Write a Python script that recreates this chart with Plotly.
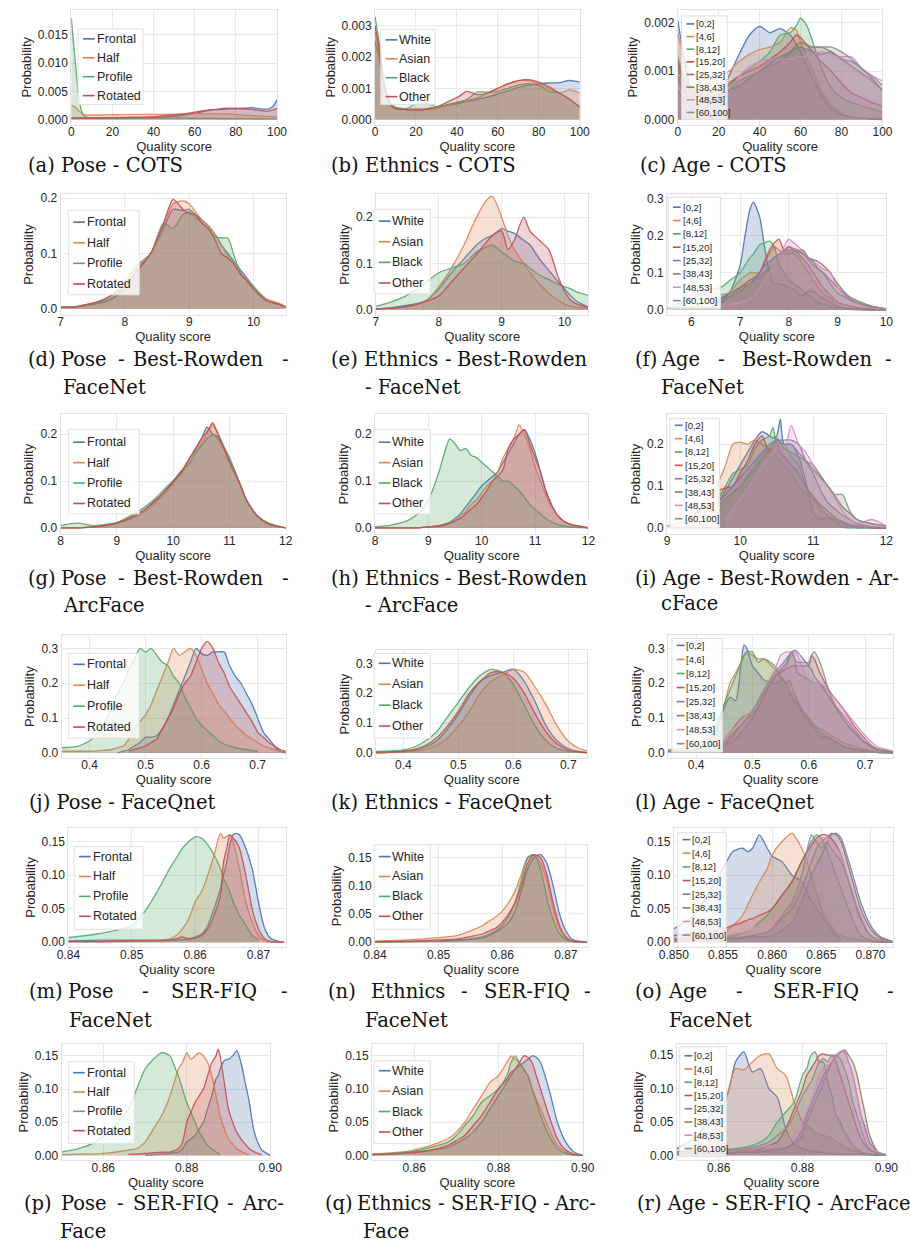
import plotly.graph_objects as go

W, H = 910, 1246
SANS = "Liberation Sans, Arial, sans-serif"
SERIF = "DejaVu Serif, serif"
TXT = "#262626"
N = None

COLORS = ["#4C72B0", "#DD8452", "#55A868", "#C44E52", "#8172B3", "#937860", "#DA8BC3", "#8C8C8C"]
POSE = ["Frontal", "Half", "Profile", "Rotated"]
ETHNICS = ["White", "Asian", "Black", "Other"]
AGE = ["[0,2]", "[4,6]", "[8,12]", "[15,20]", "[25,32]", "[38,43]", "[48,53]", "[60,100]"]

# ---------------- (a) Pose - COTS  (values x 1e-3)
a_x = [0, 2, 4, 6, 8, 10, 15, 20, 30, 40, 50, 55, 60, 65, 70, 75, 80, 85, 88, 92, 96, 98, 100]
a_frontal = [0.2, 0.2, 0.2, 0.2, 0.2, 0.2, 0.2, 0.2, 0.25, 0.3, 0.55, 0.8, 1.1, 1.5, 1.75, 1.85, 1.9, 2.0, 2.1, 1.9, 1.9, 2.3, 3.5]
a_half = [2.5, 2.2, 1.4, 0.9, 0.8, 0.8, 0.8, 0.85, 0.9, 0.9, 0.95, 1.0, 1.0, 1.0, 1.0, 1.0, 0.9, 0.75, 0.7, 0.6, 0.55, 0.5, 0.5]
a_profile = [18.0, 10.0, 3.0, 0.7, 0.4, 0.35, 0.35, 0.35, 0.35, 0.3, 0.25, 0.25, 0.2, 0.2, 0.2, 0.15, 0.15, 0.15, 0.15, 0.1, 0.1, 0.1, 0.1]
a_rotated = [0.3, 0.3, 0.3, 0.3, 0.3, 0.3, 0.3, 0.35, 0.4, 0.5, 0.8, 1.0, 1.3, 1.6, 1.8, 2.0, 2.0, 1.9, 1.8, 1.6, 1.5, 1.7, 2.0]

# ---------------- (b) Ethnics - COTS  (values x 1e-3)
b_x = [0, 2, 4, 6, 8, 10, 15, 20, 23, 26, 30, 35, 40, 45, 50, 55, 60, 65, 70, 75, 80, 85, 90, 95, 100]
b_white = [2.5, 2.0, 1.2, 0.7, 0.45, 0.35, 0.33, 0.33, 0.33, 0.35, 0.4, 0.45, 0.5, 0.58, 0.65, 0.72, 0.82, 0.92, 1.02, 1.1, 1.15, 1.17, 1.18, 1.25, 1.2]
b_asian = [2.8, 2.2, 1.3, 0.7, 0.45, 0.35, 0.33, 0.33, 0.33, 0.33, 0.35, 0.45, 0.55, 0.6, 0.7, 0.85, 1.0, 1.15, 1.25, 1.25, 1.15, 1.0, 0.85, 0.95, 0.85]
b_black = [3.3, 2.5, 1.4, 0.8, 0.5, 0.4, 0.35, 0.5, 0.55, 0.5, 0.42, 0.48, 0.55, 0.65, 0.88, 0.88, 0.9, 1.0, 1.1, 1.15, 1.1, 0.9, 0.85, 0.65, 0.4]
b_other = [3.0, 2.3, 1.3, 0.7, 0.45, 0.35, 0.32, 0.3, 0.3, 0.35, 0.4, 0.55, 0.7, 0.9, 0.8, 0.85, 1.0, 1.15, 1.25, 1.28, 1.2, 1.05, 0.85, 0.65, 0.4]

# ---------------- (c) Age - COTS  (values x 1e-3)
c_x = [0, 3, 6, 10, 15, 20, 25, 30, 35, 40, 45, 50, 55, 58, 60, 63, 66, 70, 75, 80, 85, 90, 95, 100]
c_a0 = [2.06, 1.3, 0.7, 0.5, 0.45, 0.5, 0.9, 1.35, 1.75, 1.93, 1.8, 1.88, 1.75, 1.55, 1.4, 1.1, 0.85, 0.5, 0.22, 0.1, 0.05, 0.03, 0.01, 0.0]
c_a1 = [1.8, 1.3, 1.0, 0.85, 0.85, 0.9, 1.0, 1.2, 1.35, 1.45, 1.5, 1.6, 1.9, 1.85, 1.6, 1.3, 1.0, 0.6, 0.3, 0.12, 0.05, 0.03, 0.02, 0.01]
c_a2 = [1.3, 0.9, 0.7, 0.6, 0.6, 0.62, 0.7, 0.9, 1.05, 1.2, 1.4, 1.75, 1.8, 1.95, 2.1, 1.95, 1.6, 1.1, 0.65, 0.45, 0.35, 0.28, 0.22, 0.15]
c_a3 = [1.2, 0.8, 0.6, 0.5, 0.55, 0.6, 0.75, 0.9, 1.0, 1.1, 1.25, 1.4, 1.6, 1.75, 1.7, 1.55, 1.4, 1.2, 1.0, 0.75, 0.55, 0.45, 0.35, 0.28]
c_a4 = [0.9, 0.6, 0.45, 0.4, 0.42, 0.5, 0.6, 0.7, 0.85, 1.0, 1.15, 1.3, 1.4, 1.48, 1.5, 1.45, 1.4, 1.35, 1.4, 1.25, 1.2, 1.05, 0.85, 0.6]
c_a5 = [1.1, 0.7, 0.5, 0.42, 0.45, 0.5, 0.6, 0.7, 0.85, 1.0, 1.1, 1.2, 1.4, 1.55, 1.6, 1.55, 1.5, 1.5, 1.4, 1.25, 1.1, 0.95, 0.8, 0.6]
c_a6 = [0.7, 0.45, 0.3, 0.28, 0.28, 0.3, 0.55, 0.9, 1.1, 1.2, 1.25, 1.25, 1.25, 1.3, 1.3, 1.32, 1.35, 1.4, 1.35, 1.3, 1.3, 1.05, 0.9, 0.8]
c_a7 = [0.6, 0.45, 0.4, 0.4, 0.4, 0.42, 0.6, 0.8, 0.9, 1.0, 1.2, 1.3, 1.35, 1.4, 1.45, 1.45, 1.5, 1.5, 1.5, 1.4, 1.25, 1.05, 0.9, 0.7]

# ---------------- (d) Pose - Best-Rowden - FaceNet
d_x = [7.0, 7.2, 7.4, 7.6, 7.8, 8.0, 8.2, 8.4, 8.6, 8.75, 8.9, 9.0, 9.1, 9.2, 9.3, 9.4, 9.5, 9.6, 9.7, 9.8, 9.9, 10.0, 10.2, 10.4, 10.5]
d_frontal = [0.003, 0.003, 0.006, 0.01, 0.018, 0.035, 0.07, 0.1, 0.145, 0.18, 0.178, 0.18, 0.17, 0.16, 0.15, 0.135, 0.115, 0.1, 0.085, 0.07, 0.055, 0.04, 0.015, 0.008, 0.003]
d_half = [0.003, 0.003, 0.006, 0.012, 0.02, 0.04, 0.075, 0.1, 0.15, 0.19, 0.195, 0.19, 0.175, 0.16, 0.15, 0.135, 0.115, 0.095, 0.08, 0.065, 0.052, 0.04, 0.018, 0.01, 0.004]
d_profile = [0.003, 0.003, 0.006, 0.012, 0.025, 0.05, 0.08, 0.1, 0.155, 0.145, 0.17, 0.175, 0.165, 0.155, 0.145, 0.13, 0.128, 0.128, 0.095, 0.065, 0.05, 0.04, 0.015, 0.008, 0.003]
d_rotated = [0.003, 0.003, 0.008, 0.014, 0.025, 0.04, 0.07, 0.1, 0.155, 0.198, 0.18, 0.172, 0.17, 0.155, 0.145, 0.125, 0.1, 0.092, 0.08, 0.062, 0.05, 0.035, 0.015, 0.008, 0.003]

# ---------------- (e) Ethnics - Best-Rowden - FaceNet
e_x = [7.0, 7.2, 7.4, 7.6, 7.8, 8.0, 8.2, 8.4, 8.6, 8.75, 8.85, 9.0, 9.1, 9.2, 9.35, 9.45, 9.6, 9.75, 9.9, 10.0, 10.1, 10.2, 10.4]
e_white = [0.002, 0.004, 0.008, 0.012, 0.02, 0.045, 0.08, 0.11, 0.14, 0.155, 0.16, 0.175, 0.17, 0.165, 0.15, 0.14, 0.11, 0.085, 0.06, 0.045, 0.03, 0.018, 0.005]
e_asian = [0.002, 0.003, 0.005, 0.01, 0.02, 0.05, 0.09, 0.14, 0.2, 0.235, 0.245, 0.2, 0.16, 0.13, 0.1, 0.08, 0.055, 0.035, 0.02, 0.012, 0.008, 0.005, 0.002]
e_black = [0.008, 0.015, 0.025, 0.04, 0.06, 0.08, 0.09, 0.1, 0.125, 0.135, 0.14, 0.125, 0.115, 0.105, 0.1, 0.09, 0.075, 0.065, 0.055, 0.05, 0.045, 0.038, 0.03]
e_other = [0.002, 0.003, 0.005, 0.01, 0.018, 0.03, 0.06, 0.09, 0.12, 0.145, 0.16, 0.17, 0.13, 0.15, 0.2, 0.17, 0.15, 0.13, 0.07, 0.04, 0.02, 0.012, 0.004]

# ---------------- (f) Age - Best-Rowden - FaceNet
f_x = [5.5, 5.8, 6.0, 6.2, 6.4, 6.6, 6.8, 7.0, 7.1, 7.2, 7.27, 7.4, 7.5, 7.6, 7.7, 7.8, 7.9, 8.0, 8.1, 8.2, 8.3, 8.4, 8.5, 8.6, 8.7, 8.85, 9.0, 9.2, 9.4, 9.7, 10.0]
f_a0 = [N, N, N, N, N, 0.02, 0.05, 0.12, 0.2, 0.27, 0.29, 0.25, 0.17, 0.1, 0.07, 0.07, 0.065, 0.06, 0.055, 0.04, 0.04, 0.05, 0.05, 0.04, 0.03, 0.02, 0.008, 0.003, 0.001, 0.0, 0.0]
f_a1 = [N, N, N, N, N, 0.03, 0.05, 0.08, 0.09, 0.1, 0.1, 0.1, 0.13, 0.15, 0.17, 0.16, 0.155, 0.155, 0.15, 0.14, 0.12, 0.1, 0.08, 0.06, 0.045, 0.03, 0.012, 0.005, 0.002, 0.0, 0.0]
f_a2 = [0.005, 0.02, 0.03, 0.045, 0.055, 0.06, 0.08, 0.1, 0.12, 0.14, 0.15, 0.175, 0.18, 0.185, 0.17, 0.12, 0.1, 0.08, 0.07, 0.06, 0.05, 0.04, 0.03, 0.02, 0.015, 0.01, 0.005, 0.002, 0.0, 0.0, 0.0]
f_a3 = [N, N, N, N, N, 0.03, 0.045, 0.06, 0.07, 0.08, 0.085, 0.1, 0.13, 0.16, 0.18, 0.19, 0.16, 0.17, 0.16, 0.15, 0.135, 0.12, 0.1, 0.08, 0.06, 0.04, 0.02, 0.012, 0.006, 0.002, 0.0]
f_a4 = [N, N, N, N, N, 0.02, 0.035, 0.05, 0.06, 0.07, 0.08, 0.1, 0.12, 0.13, 0.14, 0.15, 0.16, 0.16, 0.16, 0.155, 0.15, 0.135, 0.12, 0.11, 0.1, 0.08, 0.06, 0.035, 0.02, 0.008, 0.002]
f_a5 = [0.005, 0.005, 0.005, 0.005, 0.005, 0.03, 0.045, 0.06, 0.065, 0.07, 0.075, 0.09, 0.1, 0.11, 0.12, 0.14, 0.16, 0.17, 0.165, 0.16, 0.15, 0.14, 0.135, 0.13, 0.12, 0.1, 0.07, 0.04, 0.025, 0.01, 0.002]
f_a6 = [N, N, N, N, N, 0.01, 0.015, 0.02, 0.025, 0.03, 0.035, 0.06, 0.08, 0.1, 0.12, 0.14, 0.17, 0.19, 0.18, 0.17, 0.155, 0.14, 0.13, 0.12, 0.11, 0.1, 0.06, 0.03, 0.015, 0.005, 0.001]
f_a7 = [N, N, N, N, N, 0.04, 0.045, 0.05, 0.06, 0.07, 0.075, 0.09, 0.1, 0.12, 0.14, 0.15, 0.15, 0.15, 0.155, 0.16, 0.16, 0.14, 0.13, 0.11, 0.1, 0.07, 0.045, 0.03, 0.02, 0.01, 0.003]

# ---------------- (g) Pose - Best-Rowden - ArcFace
g_x = [8.0, 8.3, 8.6, 9.0, 9.3, 9.5, 9.7, 9.9, 10.0, 10.1, 10.2, 10.3, 10.4, 10.5, 10.6, 10.65, 10.7, 10.8, 10.9, 11.0, 11.1, 11.2, 11.3, 11.5, 11.7, 12.0]
g_frontal = [0, 0, 0.002, 0.01, 0.025, 0.04, 0.06, 0.085, 0.1, 0.115, 0.13, 0.15, 0.17, 0.19, 0.215, 0.21, 0.2, 0.195, 0.17, 0.145, 0.12, 0.09, 0.06, 0.025, 0.008, 0.0]
g_half = [0, 0, 0.002, 0.01, 0.022, 0.035, 0.055, 0.08, 0.095, 0.11, 0.13, 0.15, 0.165, 0.18, 0.2, 0.215, 0.22, 0.2, 0.175, 0.15, 0.12, 0.09, 0.06, 0.025, 0.008, 0.0]
g_profile = [0.005, 0.01, 0.005, 0.012, 0.03, 0.045, 0.065, 0.09, 0.1, 0.11, 0.125, 0.14, 0.16, 0.175, 0.19, 0.195, 0.2, 0.19, 0.17, 0.15, 0.12, 0.09, 0.06, 0.025, 0.01, 0.0]
g_rotated = [0, 0, 0.002, 0.01, 0.025, 0.04, 0.06, 0.085, 0.1, 0.115, 0.13, 0.15, 0.17, 0.19, 0.205, 0.215, 0.225, 0.2, 0.17, 0.14, 0.115, 0.09, 0.06, 0.025, 0.008, 0.0]

# ---------------- (h) Ethnics - Best-Rowden - ArcFace
h_x = [8.0, 8.3, 8.6, 8.8, 9.0, 9.2, 9.3, 9.4, 9.5, 9.6, 9.7, 9.8, 9.9, 10.0, 10.1, 10.2, 10.3, 10.4, 10.5, 10.6, 10.7, 10.8, 10.9, 11.0, 11.1, 11.2, 11.4, 11.6, 12.0]
h_white = [0, 0, 0, 0, 0.002, 0.005, 0.008, 0.012, 0.02, 0.03, 0.045, 0.06, 0.075, 0.09, 0.1, 0.11, 0.12, 0.14, 0.16, 0.18, 0.2, 0.21, 0.19, 0.16, 0.12, 0.08, 0.03, 0.01, 0]
h_asian = [0, 0, 0, 0, 0.002, 0.004, 0.006, 0.01, 0.015, 0.025, 0.035, 0.05, 0.06, 0.075, 0.09, 0.1, 0.12, 0.15, 0.17, 0.19, 0.22, 0.2, 0.17, 0.13, 0.1, 0.07, 0.03, 0.01, 0]
h_black = [0.002, 0.006, 0.015, 0.03, 0.06, 0.12, 0.16, 0.19, 0.18, 0.165, 0.17, 0.155, 0.15, 0.14, 0.13, 0.12, 0.11, 0.1, 0.1, 0.09, 0.08, 0.065, 0.05, 0.04, 0.03, 0.02, 0.008, 0.003, 0]
h_other = [0, 0, 0, 0, 0.002, 0.004, 0.006, 0.01, 0.015, 0.02, 0.03, 0.04, 0.05, 0.065, 0.08, 0.1, 0.11, 0.125, 0.17, 0.19, 0.2, 0.21, 0.18, 0.15, 0.12, 0.08, 0.03, 0.01, 0]

# ---------------- (i) Age - Best-Rowden - ArcFace
i_x = [9.0, 9.3, 9.6, 9.7, 9.8, 9.9, 10.0, 10.1, 10.2, 10.3, 10.4, 10.45, 10.5, 10.55, 10.6, 10.7, 10.8, 10.9, 11.0, 11.1, 11.2, 11.3, 11.4, 11.5, 11.6, 11.8, 12.0]
i_a0 = [N, N, N, 0.06, 0.09, 0.12, 0.15, 0.18, 0.21, 0.23, 0.22, 0.215, 0.22, 0.26, 0.2, 0.2, 0.17, 0.11, 0.035, 0.02, 0.025, 0.015, 0.002, 0.0, 0.0, 0.0, 0.0]
i_a1 = [0.005, 0.02, 0.08, 0.11, 0.15, 0.2, 0.205, 0.2, 0.21, 0.2, 0.19, 0.18, 0.17, 0.16, 0.15, 0.13, 0.1, 0.08, 0.07, 0.04, 0.03, 0.02, 0.012, 0.005, 0.003, 0.0, 0.0]
i_a2 = [N, N, N, 0.07, 0.1, 0.13, 0.14, 0.15, 0.19, 0.21, 0.22, 0.24, 0.2, 0.2, 0.2, 0.17, 0.15, 0.1, 0.07, 0.05, 0.03, 0.02, 0.01, 0.005, 0.0, 0.0, 0.0]
i_a3 = [N, N, N, 0.09, 0.095, 0.1, 0.13, 0.16, 0.2, 0.22, 0.18, 0.19, 0.2, 0.18, 0.17, 0.15, 0.13, 0.1, 0.075, 0.055, 0.04, 0.025, 0.015, 0.008, 0.005, 0.0, 0.0]
i_a4 = [N, N, N, 0.06, 0.08, 0.1, 0.12, 0.14, 0.16, 0.18, 0.2, 0.205, 0.21, 0.21, 0.21, 0.21, 0.2, 0.16, 0.13, 0.09, 0.06, 0.045, 0.03, 0.02, 0.01, 0.003, 0.0]
i_a5 = [N, N, N, 0.05, 0.07, 0.085, 0.1, 0.12, 0.14, 0.165, 0.19, 0.2, 0.215, 0.2, 0.19, 0.18, 0.17, 0.16, 0.15, 0.125, 0.1, 0.075, 0.05, 0.035, 0.02, 0.01, 0.005]
i_a6 = [N, N, N, N, 0.02, 0.045, 0.07, 0.095, 0.12, 0.145, 0.17, 0.185, 0.2, 0.2, 0.18, 0.245, 0.2, 0.18, 0.15, 0.12, 0.1, 0.07, 0.04, 0.02, 0.01, 0.02, 0.005]
i_a7 = [N, N, N, 0.04, 0.06, 0.08, 0.1, 0.125, 0.15, 0.175, 0.2, 0.205, 0.21, 0.205, 0.2, 0.2, 0.18, 0.16, 0.14, 0.12, 0.1, 0.08, 0.08, 0.04, 0.02, 0.01, 0.005]

# ---------------- (j) Pose - FaceQnet
j_x = [0.35, 0.38, 0.4, 0.42, 0.44, 0.45, 0.46, 0.47, 0.48, 0.49, 0.5, 0.51, 0.52, 0.53, 0.54, 0.55, 0.56, 0.57, 0.58, 0.59, 0.6, 0.61, 0.62, 0.63, 0.64, 0.65, 0.66, 0.67, 0.68, 0.69, 0.7, 0.71, 0.72, 0.73, 0.74, 0.75]
j_frontal = [N, N, N, N, N, 0.0, 0.005, 0.01, 0.02, 0.03, 0.045, 0.045, 0.05, 0.07, 0.1, 0.14, 0.18, 0.22, 0.26, 0.3, 0.285, 0.28, 0.29, 0.29, 0.29, 0.25, 0.22, 0.2, 0.17, 0.14, 0.1, 0.06, 0.04, 0.02, 0.005, 0.0]
j_half = [0.005, 0.005, 0.005, 0.007, 0.01, 0.015, 0.02, 0.04, 0.07, 0.09, 0.11, 0.14, 0.18, 0.22, 0.26, 0.3, 0.28, 0.29, 0.3, 0.28, 0.24, 0.2, 0.17, 0.14, 0.12, 0.1, 0.08, 0.065, 0.05, 0.04, 0.03, 0.02, 0.015, 0.01, 0.005, 0.005]
j_profile = [0.015, 0.02, 0.035, 0.07, 0.13, 0.17, 0.2, 0.24, 0.27, 0.3, 0.29, 0.3, 0.28, 0.26, 0.25, 0.22, 0.2, 0.16, 0.13, 0.1, 0.08, 0.065, 0.05, 0.035, 0.025, 0.02, 0.015, 0.012, 0.01, 0.007, 0.005, N, N, N, N, N]
j_rotated = [N, N, N, N, N, N, N, 0.005, 0.01, 0.015, 0.02, 0.03, 0.04, 0.07, 0.1, 0.13, 0.17, 0.2, 0.22, 0.26, 0.3, 0.32, 0.3, 0.26, 0.23, 0.19, 0.165, 0.14, 0.115, 0.09, 0.06, 0.045, 0.03, 0.02, 0.01, 0.005]

# ---------------- (k) Ethnics - FaceQnet
k_x = [0.35, 0.4, 0.42, 0.44, 0.46, 0.48, 0.5, 0.52, 0.54, 0.56, 0.58, 0.6, 0.62, 0.64, 0.66, 0.68, 0.7, 0.72, 0.74]
k_white = [0.0, 0.005, 0.01, 0.02, 0.04, 0.08, 0.13, 0.19, 0.24, 0.26, 0.27, 0.28, 0.24, 0.17, 0.09, 0.04, 0.015, 0.005, 0.0]
k_asian = [0.0, 0.003, 0.006, 0.012, 0.025, 0.05, 0.09, 0.14, 0.2, 0.24, 0.26, 0.28, 0.27, 0.22, 0.16, 0.09, 0.04, 0.015, 0.005]
k_black = [0.005, 0.01, 0.02, 0.04, 0.07, 0.12, 0.17, 0.22, 0.26, 0.28, 0.27, 0.23, 0.16, 0.09, 0.04, 0.015, 0.005, 0.002, 0.0]
k_other = [0.002, 0.006, 0.012, 0.025, 0.05, 0.09, 0.14, 0.2, 0.24, 0.27, 0.27, 0.25, 0.2, 0.13, 0.07, 0.03, 0.01, 0.003, 0.0]

# ---------------- (l) Age - FaceQnet
l_x = [0.35, 0.4, 0.43, 0.44, 0.45, 0.46, 0.47, 0.48, 0.485, 0.49, 0.5, 0.51, 0.52, 0.54, 0.55, 0.56, 0.565, 0.57, 0.575, 0.58, 0.59, 0.6, 0.605, 0.61, 0.62, 0.64, 0.66, 0.68, 0.7, 0.72, 0.75]
l_a0 = [0.005, 0.01, 0.03, 0.08, 0.13, 0.16, 0.15, 0.26, 0.31, 0.3, 0.25, 0.23, 0.21, 0.2, 0.21, 0.2, 0.18, 0.16, 0.15, 0.14, 0.11, 0.09, 0.08, 0.07, 0.05, 0.04, 0.02, 0.012, 0.005, 0.002, 0.0]
l_a1 = [0.01, 0.02, 0.06, 0.1, 0.14, 0.2, 0.23, 0.26, 0.28, 0.29, 0.28, 0.27, 0.27, 0.24, 0.22, 0.2, 0.18, 0.17, 0.16, 0.15, 0.12, 0.1, 0.09, 0.08, 0.07, 0.05, 0.03, 0.02, 0.01, 0.004, 0.0]
l_a2 = [0.005, 0.01, 0.05, 0.09, 0.14, 0.18, 0.22, 0.26, 0.28, 0.29, 0.29, 0.26, 0.27, 0.25, 0.22, 0.2, 0.21, 0.19, 0.17, 0.15, 0.12, 0.1, 0.09, 0.08, 0.06, 0.04, 0.02, 0.01, 0.005, 0.002, 0.0]
l_a3 = [N, N, N, 0.01, 0.02, 0.04, 0.06, 0.08, 0.09, 0.1, 0.11, 0.13, 0.16, 0.22, 0.23, 0.24, 0.245, 0.25, 0.25, 0.25, 0.25, 0.25, 0.28, 0.27, 0.23, 0.17, 0.13, 0.08, 0.04, 0.01, 0.003]
l_a4 = [N, N, N, 0.005, 0.02, 0.03, 0.04, 0.06, 0.07, 0.08, 0.1, 0.13, 0.16, 0.22, 0.24, 0.26, 0.28, 0.29, 0.295, 0.29, 0.27, 0.25, 0.24, 0.22, 0.2, 0.15, 0.11, 0.07, 0.03, 0.01, 0.002]
l_a5 = [N, N, N, 0.02, 0.04, 0.06, 0.08, 0.1, 0.105, 0.11, 0.12, 0.145, 0.17, 0.22, 0.235, 0.25, 0.27, 0.29, 0.27, 0.23, 0.22, 0.21, 0.205, 0.2, 0.2, 0.15, 0.1, 0.06, 0.03, 0.01, 0.004]
l_a6 = [N, N, N, 0.02, 0.04, 0.06, 0.075, 0.09, 0.1, 0.11, 0.12, 0.15, 0.18, 0.24, 0.28, 0.29, 0.29, 0.29, 0.29, 0.28, 0.24, 0.21, 0.205, 0.2, 0.2, 0.17, 0.13, 0.09, 0.05, 0.02, 0.005]
l_a7 = [N, N, N, 0.015, 0.03, 0.05, 0.065, 0.08, 0.09, 0.1, 0.12, 0.15, 0.18, 0.23, 0.25, 0.27, 0.28, 0.29, 0.27, 0.26, 0.26, 0.26, 0.28, 0.29, 0.26, 0.16, 0.1, 0.06, 0.03, 0.015, 0.003]

# ---------------- (m) Pose - SER-FIQ - FaceNet
m_x = [0.84, 0.845, 0.85, 0.852, 0.854, 0.856, 0.857, 0.858, 0.859, 0.86, 0.861, 0.862, 0.863, 0.864, 0.8645, 0.865, 0.8655, 0.866, 0.8665, 0.867, 0.868, 0.869, 0.87, 0.871, 0.872, 0.874]
m_frontal = [0.002, 0.003, 0.003, 0.003, 0.003, 0.003, 0.003, 0.004, 0.005, 0.008, 0.012, 0.025, 0.05, 0.08, 0.1, 0.12, 0.145, 0.16, 0.162, 0.16, 0.14, 0.11, 0.06, 0.02, 0.005, 0.0]
m_half = [0.001, 0.001, 0.002, 0.002, 0.003, 0.005, 0.01, 0.02, 0.035, 0.06, 0.075, 0.1, 0.13, 0.162, 0.155, 0.158, 0.16, 0.15, 0.13, 0.11, 0.06, 0.03, 0.01, 0.002, 0.0, 0.0]
m_profile = [0.007, 0.013, 0.025, 0.045, 0.075, 0.11, 0.125, 0.14, 0.15, 0.157, 0.155, 0.145, 0.13, 0.11, 0.095, 0.085, 0.075, 0.06, 0.05, 0.04, 0.025, 0.01, 0.004, N, N, N]
m_rotated = [0.001, 0.001, 0.002, 0.002, 0.002, 0.003, 0.005, 0.008, 0.005, 0.006, 0.01, 0.02, 0.04, 0.07, 0.12, 0.14, 0.16, 0.155, 0.15, 0.14, 0.1, 0.05, 0.02, 0.005, 0.001, 0.0]

# ---------------- (n) Ethnics - SER-FIQ - FaceNet
n_x = [0.84, 0.845, 0.85, 0.853, 0.855, 0.857, 0.858, 0.859, 0.86, 0.861, 0.862, 0.863, 0.864, 0.865, 0.866, 0.867, 0.868, 0.869, 0.87, 0.871, 0.8734]
n_white = [0.0, 0.001, 0.002, 0.003, 0.005, 0.008, 0.012, 0.018, 0.025, 0.035, 0.055, 0.09, 0.13, 0.15, 0.155, 0.14, 0.1, 0.05, 0.02, 0.005, 0.0]
n_asian = [0.002, 0.004, 0.008, 0.012, 0.02, 0.03, 0.038, 0.045, 0.055, 0.07, 0.09, 0.12, 0.15, 0.155, 0.14, 0.11, 0.06, 0.025, 0.008, 0.002, 0.0]
n_black = [0.0, 0.001, 0.002, 0.004, 0.006, 0.01, 0.015, 0.02, 0.03, 0.045, 0.07, 0.11, 0.15, 0.155, 0.13, 0.08, 0.04, 0.015, 0.005, 0.001, 0.0]
n_other = [0.001, 0.002, 0.004, 0.006, 0.01, 0.015, 0.02, 0.025, 0.035, 0.05, 0.07, 0.1, 0.14, 0.155, 0.15, 0.12, 0.07, 0.03, 0.01, 0.002, 0.0]

# ---------------- (o) Age - SER-FIQ - FaceNet
o_x = [0.85, 0.852, 0.854, 0.855, 0.856, 0.857, 0.8575, 0.858, 0.8587, 0.8595, 0.86, 0.861, 0.862, 0.863, 0.864, 0.8645, 0.865, 0.8655, 0.866, 0.8665, 0.867, 0.868, 0.869, 0.87, 0.871, 0.8723]
o_a0 = [0.02, 0.04, 0.085, 0.11, 0.135, 0.14, 0.135, 0.14, 0.16, 0.14, 0.128, 0.12, 0.1, 0.09, 0.06, 0.05, 0.04, 0.03, 0.02, 0.01, 0.005, N, N, N, N, N]
o_a1 = [0.005, 0.008, 0.012, 0.015, 0.025, 0.04, 0.055, 0.07, 0.09, 0.11, 0.13, 0.15, 0.162, 0.14, 0.1, 0.075, 0.05, 0.035, 0.025, 0.015, 0.01, 0.005, 0.003, 0.001, 0.0, 0.0]
o_a2 = [0.005, 0.006, 0.008, 0.009, 0.01, 0.013, 0.016, 0.02, 0.03, 0.04, 0.05, 0.07, 0.09, 0.12, 0.15, 0.16, 0.155, 0.14, 0.12, 0.1, 0.08, 0.04, 0.01, 0.003, 0.0, 0.0]
o_a3 = [0.01, 0.013, 0.017, 0.02, 0.025, 0.03, 0.033, 0.035, 0.04, 0.045, 0.05, 0.07, 0.09, 0.12, 0.145, 0.155, 0.16, 0.16, 0.155, 0.145, 0.13, 0.08, 0.035, 0.01, 0.002, 0.0]
o_a4 = [0.003, 0.003, 0.004, 0.004, 0.005, 0.006, 0.007, 0.008, 0.008, 0.009, 0.01, 0.018, 0.03, 0.06, 0.1, 0.115, 0.13, 0.145, 0.16, 0.162, 0.155, 0.11, 0.06, 0.025, 0.008, 0.001]
o_a5 = [0.004, 0.004, 0.005, 0.005, 0.006, 0.007, 0.008, 0.01, 0.012, 0.015, 0.02, 0.035, 0.05, 0.08, 0.12, 0.14, 0.15, 0.155, 0.162, 0.16, 0.15, 0.1, 0.05, 0.02, 0.006, 0.001]
o_a6 = [0.005, 0.006, 0.008, 0.01, 0.012, 0.015, 0.017, 0.02, 0.025, 0.028, 0.03, 0.045, 0.06, 0.1, 0.14, 0.15, 0.155, 0.155, 0.15, 0.14, 0.13, 0.08, 0.04, 0.01, 0.003, 0.0]
o_a7 = [0.005, 0.005, 0.006, 0.006, 0.007, 0.008, 0.009, 0.01, 0.012, 0.015, 0.02, 0.04, 0.06, 0.1, 0.16, 0.15, 0.14, 0.15, 0.14, 0.13, 0.12, 0.08, 0.035, 0.01, 0.003, 0.0]

# ---------------- (p) Pose - SER-FIQ - ArcFace
p_x = [0.85, 0.854, 0.858, 0.862, 0.866, 0.868, 0.87, 0.872, 0.874, 0.876, 0.877, 0.878, 0.879, 0.88, 0.881, 0.882, 0.883, 0.884, 0.885, 0.886, 0.887, 0.8875, 0.888, 0.889, 0.89, 0.891, 0.892, 0.893, 0.894, 0.895, 0.896, 0.897, 0.898, 0.9]
p_frontal = [N, N, N, N, N, N, 0.0, 0.001, 0.002, 0.003, 0.004, 0.005, 0.01, 0.02, 0.025, 0.03, 0.04, 0.05, 0.07, 0.09, 0.115, 0.12, 0.13, 0.143, 0.145, 0.15, 0.158, 0.14, 0.11, 0.08, 0.04, 0.02, 0.008, 0.0]
p_half = [0.001, 0.002, 0.002, 0.004, 0.008, 0.01, 0.02, 0.04, 0.06, 0.09, 0.11, 0.13, 0.14, 0.155, 0.145, 0.15, 0.155, 0.15, 0.14, 0.12, 0.09, 0.075, 0.06, 0.04, 0.025, 0.017, 0.01, 0.006, 0.003, 0.001, N, N, N, N]
p_profile = [0.005, 0.01, 0.02, 0.04, 0.07, 0.1, 0.13, 0.145, 0.155, 0.15, 0.135, 0.12, 0.1, 0.08, 0.065, 0.05, 0.035, 0.025, 0.015, 0.01, 0.005, 0.003, 0.002, N, N, N, N, N, N, N, N, N, N, N]
p_rotated = [N, N, N, N, 0.002, 0.002, 0.003, 0.004, 0.005, 0.005, 0.007, 0.01, 0.02, 0.05, 0.065, 0.08, 0.09, 0.1, 0.12, 0.14, 0.15, 0.16, 0.15, 0.11, 0.07, 0.05, 0.035, 0.025, 0.017, 0.01, 0.006, 0.003, 0.001, N]

# ---------------- (q) Ethnics - SER-FIQ - ArcFace
q_x = [0.85, 0.855, 0.86, 0.864, 0.868, 0.87, 0.872, 0.874, 0.876, 0.878, 0.88, 0.882, 0.883, 0.884, 0.885, 0.886, 0.887, 0.888, 0.889, 0.89, 0.892, 0.894, 0.896, 0.898, 0.9]
q_white = [0.002, 0.003, 0.005, 0.008, 0.012, 0.018, 0.025, 0.035, 0.05, 0.07, 0.09, 0.11, 0.12, 0.13, 0.135, 0.14, 0.145, 0.15, 0.148, 0.14, 0.1, 0.05, 0.02, 0.005, 0.0]
q_asian = [0.002, 0.004, 0.008, 0.015, 0.025, 0.035, 0.05, 0.07, 0.09, 0.11, 0.12, 0.14, 0.15, 0.145, 0.14, 0.13, 0.12, 0.1, 0.085, 0.07, 0.04, 0.015, 0.005, 0.001, 0.0]
q_black = [0.001, 0.003, 0.006, 0.012, 0.02, 0.03, 0.045, 0.06, 0.08, 0.09, 0.1, 0.12, 0.14, 0.15, 0.14, 0.13, 0.12, 0.1, 0.08, 0.06, 0.03, 0.01, 0.003, 0.0, 0.0]
q_other = [0.001, 0.002, 0.004, 0.008, 0.015, 0.022, 0.03, 0.045, 0.06, 0.08, 0.1, 0.115, 0.125, 0.13, 0.14, 0.15, 0.148, 0.14, 0.12, 0.1, 0.06, 0.025, 0.008, 0.002, 0.0]

# ---------------- (r) Age - SER-FIQ - ArcFace
r_x = [0.85, 0.855, 0.858, 0.86, 0.862, 0.864, 0.866, 0.868, 0.87, 0.872, 0.874, 0.876, 0.878, 0.88, 0.881, 0.882, 0.883, 0.884, 0.885, 0.886, 0.887, 0.888, 0.889, 0.89, 0.891, 0.892, 0.893, 0.894, 0.895, 0.896, 0.898, 0.9]
r_a0 = [0.01, 0.03, 0.06, 0.08, 0.09, 0.14, 0.155, 0.125, 0.13, 0.1, 0.087, 0.04, 0.017, 0.01, 0.008, 0.007, 0.006, 0.005, 0.004, 0.004, 0.003, 0.003, 0.002, 0.002, 0.002, 0.002, 0.002, 0.002, 0.001, 0.001, 0.0, 0.0]
r_a1 = [0.005, 0.01, 0.02, 0.05, 0.09, 0.13, 0.128, 0.14, 0.15, 0.152, 0.13, 0.12, 0.08, 0.05, 0.045, 0.04, 0.035, 0.032, 0.03, 0.028, 0.025, 0.02, 0.017, 0.012, 0.01, 0.008, 0.006, 0.005, 0.003, 0.002, 0.001, 0.0]
r_a2 = [0.005, 0.006, 0.007, 0.008, 0.009, 0.01, 0.012, 0.015, 0.02, 0.03, 0.05, 0.065, 0.08, 0.12, 0.13, 0.15, 0.155, 0.14, 0.14, 0.11, 0.09, 0.06, 0.05, 0.035, 0.025, 0.015, 0.01, 0.005, 0.003, 0.001, 0.0, 0.0]
r_a3 = [0.005, 0.005, 0.006, 0.006, 0.007, 0.008, 0.008, 0.009, 0.01, 0.015, 0.02, 0.04, 0.07, 0.1, 0.12, 0.13, 0.14, 0.15, 0.152, 0.15, 0.15, 0.14, 0.12, 0.1, 0.08, 0.06, 0.04, 0.025, 0.015, 0.008, 0.003, 0.0]
r_a4 = [0.002, 0.002, 0.003, 0.003, 0.003, 0.004, 0.004, 0.004, 0.005, 0.006, 0.008, 0.01, 0.02, 0.04, 0.06, 0.075, 0.09, 0.105, 0.12, 0.13, 0.14, 0.148, 0.155, 0.155, 0.14, 0.12, 0.09, 0.06, 0.04, 0.02, 0.005, 0.001]
r_a5 = [0.002, 0.003, 0.003, 0.004, 0.004, 0.005, 0.005, 0.006, 0.007, 0.008, 0.01, 0.012, 0.016, 0.03, 0.05, 0.065, 0.08, 0.095, 0.11, 0.125, 0.14, 0.15, 0.155, 0.158, 0.15, 0.14, 0.12, 0.09, 0.06, 0.03, 0.005, 0.001]
r_a6 = [0.003, 0.004, 0.005, 0.006, 0.007, 0.008, 0.009, 0.01, 0.012, 0.014, 0.016, 0.02, 0.03, 0.05, 0.065, 0.08, 0.1, 0.12, 0.13, 0.135, 0.14, 0.15, 0.156, 0.155, 0.14, 0.12, 0.09, 0.06, 0.03, 0.015, 0.004, 0.001]
r_a7 = [0.004, 0.005, 0.006, 0.007, 0.008, 0.009, 0.01, 0.012, 0.015, 0.02, 0.03, 0.04, 0.06, 0.09, 0.1, 0.11, 0.125, 0.14, 0.145, 0.14, 0.15, 0.15, 0.145, 0.13, 0.11, 0.08, 0.06, 0.04, 0.02, 0.01, 0.003, 0.0]

# ---------------- captions
cap_a = ["(a) Pose - COTS"]
cap_b = ["(b) Ethnics - COTS"]
cap_c = ["(c) Age - COTS"]
cap_d = ["(d)", "Pose", "-", "Best-Rowden", "-", "FaceNet"]
cap_e = ["(e) Ethnics", "-", "Best-Rowden", "- FaceNet"]
cap_f = ["(f)", "Age", "-", "Best-Rowden", "-", "FaceNet"]
cap_g = ["(g)", "Pose", "-", "Best-Rowden", "-", "ArcFace"]
cap_h = ["(h) Ethnics", "-", "Best-Rowden", "- ArcFace"]
cap_i = ["(i) Age - Best-Rowden - Ar-", "cFace"]
cap_j = ["(j) Pose - FaceQnet"]
cap_k = ["(k) Ethnics - FaceQnet"]
cap_l = ["(l) Age - FaceQnet"]
cap_m = ["(m)", "Pose", "-", "SER-FIQ", "-", "FaceNet"]
cap_n = ["(n)", "Ethnics", "-", "SER-FIQ", "-", "FaceNet"]
cap_o = ["(o)", "Age", "-", "SER-FIQ", "-", "FaceNet"]
cap_p = ["(p)", "Pose", "-", "SER-FIQ", "-", "Arc-", "Face"]
cap_q = ["(q)", "Ethnics", "-", "SER-FIQ", "-", "Arc-", "Face"]
cap_r = ["(r) Age - SER-FIQ - ArcFace"]

# ---------------- panel layout (pixel geometry)
panels = [
    dict(x=a_x, ys=[a_frontal, a_half, a_profile, a_rotated], names=POSE, scale=1e-3,
         frame=(58, 270, 7, 122), xr=(0, 100), zero=117, unit=5667, xd=20, xf="d", yd=0.005, yf=".3f",
         leg=dict(box=(65, 26, 132, 102), y0=36, dy=19),
         cap=(cap_a, [(12, 163, "left")])),
    dict(x=b_x, ys=[b_white, b_asian, b_black, b_other], names=ETHNICS, scale=1e-3,
         frame=(371, 582, 7, 122), xr=(0, 100), zero=117, unit=31333, xd=20, xf="d", yd=0.001, yf=".3f",
         leg=dict(box=(377, 27, 433, 102), y0=37, dy=19),
         cap=(cap_b, [(325, 163, "left")])),
    dict(x=c_x, ys=[c_a0, c_a1, c_a2, c_a3, c_a4, c_a5, c_a6, c_a7], names=AGE, scale=1e-3,
         frame=(683, 894, 7, 122), xr=(0, 100), zero=117, unit=48500, xd=20, xf="d", yd=0.001, yf=".3f",
         leg=dict(box=(687, 13, 734, 117), y0=21, dy=12.7),
         cap=(cap_c, [(643, 163, "left")])),
    dict(x=d_x, ys=[d_frontal, d_half, d_profile, d_rotated], names=POSE, scale=1,
         frame=(47, 279, 192, 313), xr=(7, 10.5), zero=307, unit=555, xd=1, xf="d", yd=0.1, yf=".1f",
         leg=dict(box=(55, 208, 128, 293), y0=220, dy=20.7),
         cap=(cap_d, [(12, 358, "left"), (71, 358, "center"), (110, 358, "center"), (189, 358, "center"),
                      (283, 358, "right"), (48, 386, "left")])),
    dict(x=e_x, ys=[e_white, e_asian, e_black, e_other], names=ETHNICS, scale=1,
         frame=(372, 591, 192, 313), xr=(7, 10.38), zero=308, unit=465, xd=1, xf="d", yd=0.1, yf=".1f",
         leg=dict(box=(370, 207, 428, 292), y0=219, dy=20.7),
         cap=(cap_e, [(325, 358, "left"), (447, 358, "center"), (591, 358, "right"), (360, 386, "left")])),
    dict(x=f_x, ys=[f_a0, f_a1, f_a2, f_a3, f_a4, f_a5, f_a6, f_a7], names=AGE, scale=1,
         frame=(672, 898, 192, 313), xr=(5.5, 10), zero=308, unit=373, xd=1, xf="d", yd=0.1, yf=".1f",
         leg=dict(box=(673, 195, 727, 307), y0=205, dy=13.4),
         cap=(cap_f, [(638, 358, "left"), (686, 358, "center"), (728, 358, "center"), (816, 358, "center"),
                      (905, 358, "right"), (665, 386, "left")])),
    dict(x=g_x, ys=[g_frontal, g_half, g_profile, g_rotated], names=POSE, scale=1,
         frame=(47, 279, 413, 533), xr=(8, 12), zero=527, unit=470, xd=1, xf="d", yd=0.1, yf=".1f",
         leg=dict(box=(55, 428, 128, 513), y0=441, dy=20.5),
         cap=(cap_g, [(12, 578, "left"), (71, 578, "center"), (110, 578, "center"), (189, 578, "center"),
                      (283, 578, "right"), (48, 605, "left")])),
    dict(x=h_x, ys=[h_white, h_asian, h_black, h_other], names=ETHNICS, scale=1,
         frame=(371, 591, 413, 533), xr=(8, 12), zero=527, unit=470, xd=1, xf="d", yd=0.1, yf=".1f",
         leg=dict(box=(370, 428, 428, 513), y0=441, dy=20.5),
         cap=(cap_h, [(325, 578, "left"), (447, 578, "center"), (591, 578, "right"), (360, 605, "left")])),
    dict(x=i_x, ys=[i_a0, i_a1, i_a2, i_a3, i_a4, i_a5, i_a6, i_a7], names=AGE, scale=1,
         frame=(672, 898, 413, 533), xr=(9, 12), zero=527, unit=420, xd=1, xf="d", yd=0.1, yf=".1f",
         leg=dict(box=(675, 417, 726, 527), y0=424, dy=13.4),
         cap=(cap_i, [(638, 578, "left"), (665, 603, "left")])),
    dict(x=j_x, ys=[j_frontal, j_half, j_profile, j_rotated], names=POSE, scale=1,
         frame=(48, 279, 635, 758), xr=(0.35, 0.75), zero=753, unit=350, xd=0.1, xf=".1f", yd=0.1, yf=".1f",
         leg=dict(box=(55, 653, 128, 738), y0=664, dy=21),
         cap=(cap_j, [(13, 803, "left")])),
    dict(x=k_x, ys=[k_white, k_asian, k_black, k_other], names=ETHNICS, scale=1,
         frame=(372, 590, 650, 758), xr=(0.35, 0.735), zero=753, unit=300, xd=0.1, xf=".1f", yd=0.1, yf=".1f",
         leg=dict(box=(370, 653, 428, 738), y0=663, dy=21),
         cap=(cap_k, [(325, 803, "left")])),
    dict(x=l_x, ys=[l_a0, l_a1, l_a2, l_a3, l_a4, l_a5, l_a6, l_a7], names=AGE, scale=1,
         frame=(673, 905, 635, 758), xr=(0.35, 0.75), zero=753, unit=350, xd=0.1, xf=".1f", yd=0.1, yf=".1f",
         leg=dict(box=(677, 638, 729, 752), y0=645, dy=14.1),
         cap=(cap_l, [(638, 803, "left")])),
    dict(x=m_x, ys=[m_frontal, m_half, m_profile, m_rotated], names=POSE, scale=1,
         frame=(55, 279, 828, 948), xr=(0.84, 0.8743), zero=943, unit=674, xd=0.01, xf=".2f", yd=0.05, yf=".2f",
         leg=dict(box=(61, 847, 132, 930), y0=857, dy=20),
         cap=(cap_m, [(13, 992, "left"), (78, 992, "center"), (134, 992, "center"), (205, 992, "center"),
                      (282, 992, "right"), (55, 1022, "left")])),
    dict(x=n_x, ys=[n_white, n_asian, n_black, n_other], names=ETHNICS, scale=1,
         frame=(371, 590, 845, 948), xr=(0.84, 0.8734), zero=943, unit=567, xd=0.01, xf=".2f", yd=0.05, yf=".2f",
         leg=dict(box=(370, 845, 428, 930), y0=857, dy=20),
         cap=(cap_n, [(322, 992, "left"), (405, 992, "center"), (463.5, 992, "center"), (527.5, 992, "center"),
                      (595, 992, "right"), (360, 1022, "left")])),
    dict(x=o_x, ys=[o_a0, o_a1, o_a2, o_a3, o_a4, o_a5, o_a6, o_a7], names=AGE, scale=1,
         frame=(679, 905, 828, 948), xr=(0.85, 0.8723), zero=943, unit=674, xd=0.005, xf=".3f", yd=0.05, yf=".2f",
         leg=dict(box=(683, 833, 733, 948), y0=840, dy=13.7),
         cap=(cap_o, [(638, 992, "left"), (693, 992, "center"), (747, 992, "center"), (826, 992, "center"),
                      (907, 992, "right"), (673, 1022, "left")])),
    dict(x=p_x, ys=[p_frontal, p_half, p_profile, p_rotated], names=POSE, scale=1,
         frame=(48, 263, 1045, 1162), xr=(0.85, 0.90), zero=1157, unit=666, xd=0.02, xf=".2f", yd=0.05, yf=".2f",
         leg=dict(box=(55, 1063, 123, 1145), y0=1074, dy=19.4),
         cap=(cap_p, [(8, 1205, "left"), (70.6, 1205, "center"), (108.8, 1205, "center"), (165.7, 1205, "center"),
                      (222.6, 1205, "center"), (278, 1205, "right"), (45, 1233, "left")])),
    dict(x=q_x, ys=[q_white, q_asian, q_black, q_other], names=ETHNICS, scale=1,
         frame=(368, 585, 1045, 1162), xr=(0.85, 0.90), zero=1157, unit=666, xd=0.02, xf=".2f", yd=0.05, yf=".2f",
         leg=dict(box=(370, 1062, 428, 1145), y0=1072, dy=20.5),
         cap=(cap_q, [(318, 1205, "left"), (391, 1205, "center"), (439.5, 1205, "center"), (493.5, 1205, "center"),
                      (547.5, 1205, "center"), (600, 1205, "right"), (358, 1233, "left")])),
    dict(x=r_x, ys=[r_a0, r_a1, r_a2, r_a3, r_a4, r_a5, r_a6, r_a7], names=AGE, scale=1,
         frame=(682, 898, 1045, 1162), xr=(0.85, 0.90), zero=1157, unit=670, xd=0.02, xf=".2f", yd=0.05, yf=".2f",
         leg=dict(box=(685, 1048, 733, 1158), y0=1057, dy=13.3),
         cap=(cap_r, [(640, 1205, "left")])),
]


def rgba(hex_color, a):
    h = hex_color.lstrip("#")
    r, g, b = int(h[0:2], 16), int(h[2:4], 16), int(h[4:6], 16)
    return f"rgba({r},{g},{b},{a})"


def px(xp):
    return xp / W


def py(yp):
    return 1 - yp / H


fig = go.Figure()
layout = {}
shapes = []
annotations = []

for idx, p in enumerate(panels):
    sfx = "" if idx == 0 else str(idx + 1)
    xa, ya = "x" + sfx, "y" + sfx
    x0, x1, y0, y1 = p["frame"]
    yr = [(p["zero"] - y1) / p["unit"], (p["zero"] - y0) / p["unit"]]
    for name, ys, col in zip(p["names"], p["ys"], COLORS):
        yy = [None if v is None else v * p["scale"] for v in ys]
        fig.add_trace(go.Scatter(
            x=p["x"], y=yy, mode="lines", name=name, showlegend=False,
            line=dict(color=rgba(col, 0.9), width=1.3, shape="spline", smoothing=0.7),
            fill="tozeroy", fillcolor=rgba(col, 0.25),
            xaxis=xa, yaxis=ya, hoverinfo="skip"))
    axis_common = dict(showgrid=True, gridcolor="#E9E9E9", gridwidth=1, zeroline=False,
                       showline=True, linecolor="#E2E2E2", linewidth=1, mirror=True, ticks="",
                       tickfont=dict(family=SANS, size=12, color=TXT))
    layout["xaxis" + sfx] = dict(axis_common, domain=[px(x0), px(x1)], range=list(p["xr"]), anchor=ya,
                                 dtick=p["xd"], tick0=0, tickformat=p["xf"], ticklabelstandoff=-4,
                                 title=dict(text="Quality score", font=dict(family=SANS, size=13, color=TXT),
                                            standoff=0))
    layout["yaxis" + sfx] = dict(axis_common, domain=[py(y1), py(y0)], range=yr, anchor=xa,
                                 dtick=p["yd"], tick0=0, tickformat=p["yf"],
                                 title=dict(text="Probability", font=dict(family=SANS, size=13, color=TXT),
                                            standoff=3))
    # legend box drawn inside the axes
    lg = p["leg"]
    bx0, by0, bx1, by1 = lg["box"]
    big = len(p["names"]) <= 4
    fs = 12.5 if big else 9.5
    ln = 12 if big else 8
    shapes.append(dict(type="rect", xref="paper", yref="paper", x0=px(bx0), x1=px(bx1), y0=py(by1), y1=py(by0),
                       fillcolor="rgba(255,255,255,0.8)", line=dict(color="#E0E0E0", width=1), layer="above"))
    for k, (name, col) in enumerate(zip(p["names"], COLORS)):
        yk = lg["y0"] + k * lg["dy"]
        shapes.append(dict(type="line", xref="paper", yref="paper", x0=px(bx0 + 5), x1=px(bx0 + 5 + ln),
                           y0=py(yk), y1=py(yk), line=dict(color=col, width=1.6), layer="above"))
        annotations.append(dict(text=name, x=px(bx0 + 6 + ln), y=py(yk), xref="paper", yref="paper",
                                xanchor="left", yanchor="middle", showarrow=False, borderpad=0,
                                font=dict(family=SANS, size=fs, color=TXT)))
    # caption
    texts, places = p["cap"]
    for t, (cx, cy, anc) in zip(texts, places):
        annotations.append(dict(text=t, x=px(cx), y=py(cy), xref="paper", yref="paper",
                                xanchor=anc, yanchor="middle", showarrow=False, borderpad=0,
                                font=dict(family=SERIF, size=19.5, color="#111111")))

fig.update_layout(
    width=W, height=H, margin=dict(l=0, r=0, t=0, b=0),
    paper_bgcolor="white", plot_bgcolor="white", showlegend=False, hovermode=False,
    shapes=shapes, annotations=annotations, **layout)

fig.write_html("out.html")
